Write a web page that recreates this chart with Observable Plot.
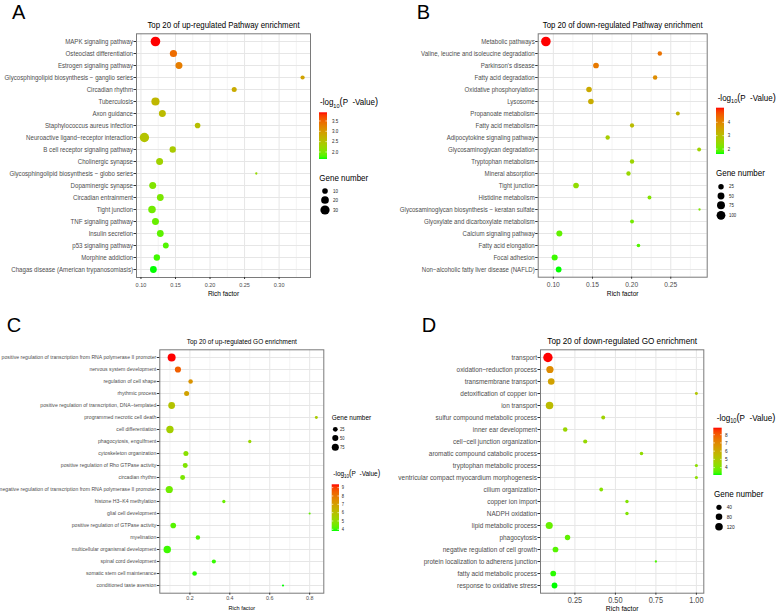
<!DOCTYPE html>
<html><head><meta charset="utf-8">
<script src="https://cdn.jsdelivr.net/npm/d3@7"></script>
<script src="https://cdn.jsdelivr.net/npm/@observablehq/plot@0.6"></script>
<style>
body{margin:0;background:#fff;}
#root{position:relative;width:778px;height:612px;overflow:hidden;background:#fff;font-family:'Liberation Sans',Arial,Helvetica,sans-serif;}
#root svg{position:absolute;}
</style></head>
<body><div id="root"></div>
<script>
// ---------- DATA ----------
const titleA = "Top 20 of up-regulated Pathway enrichment";
const termsA = ["MAPK signaling pathway","Osteoclast differentiation","Estrogen signaling pathway","Glycosphingolipid biosynthesis − ganglio series","Circadian rhythm","Tuberculosis","Axon guidance","Staphylococcus aureus infection","Neuroactive ligand−receptor interaction","B cell receptor signaling pathway","Cholinergic synapse","Glycosphingolipid biosynthesis − globo series","Dopaminergic synapse","Circadian entrainment","Tight junction","TNF signaling pathway","Insulin secretion","p53 signaling pathway","Morphine addiction","Chagas disease (American trypanosomiasis)"];
const richA  = [0.121,0.147,0.155,0.334,0.235,0.121,0.131,0.182,0.105,0.146,0.127,0.267,0.117,0.128,0.116,0.121,0.128,0.136,0.123,0.118];
const logpA  = [3.92,3.45,3.3,2.9,2.8,2.65,2.6,2.55,2.5,2.4,2.3,2.2,2.05,2.0,1.95,1.9,1.85,1.8,1.75,1.66];
const countA = [33,17,16,6,8,23,16,10,31,13,16,4,16,15,19,16,15,11,13,15];
const ticksA = [0.10,0.15,0.20,0.25,0.30];
const colorTicksA = [2.0,2.5,3.0,3.5];
const sizeTicksA = [10,20,30];

const titleB = "Top 20 of down-regulated Pathway enrichment";
const termsB = ["Metabolic pathways","Valine, leucine and isoleucine degradation","Parkinson's disease","Fatty acid degradation","Oxidative phosphorylation","Lysosome","Propanoate metabolism","Fatty acid metabolism","Adipocytokine signaling pathway","Glycosaminoglycan degradation","Tryptophan metabolism","Mineral absorption","Tight junction","Histidine metabolism","Glycosaminoglycan biosynthesis − keratan sulfate","Glyoxylate and dicarboxylate metabolism","Calcium signaling pathway","Fatty acid elongation","Focal adhesion","Non−alcoholic fatty liver disease (NAFLD)"];
const richB  = [0.0905,0.236,0.1545,0.230,0.1456,0.148,0.259,0.2005,0.1694,0.2862,0.2005,0.196,0.129,0.2228,0.2867,0.2005,0.1077,0.2087,0.1017,0.1068];
const logpB  = [5.09,4.3,4.2,3.9,3.4,3.35,3.2,3.05,2.7,2.6,2.55,2.5,2.4,2.25,2.2,2.1,1.95,1.85,1.75,1.63];
const countB = [125,13,29,13,27,27,8,11,12,8,12,12,28,8,2,8,34,6,35,30];
const ticksB = [0.10,0.15,0.20,0.25];
const colorTicksB = [2,3,4];
const sizeTicksB = [25,50,75,100];

const titleC = "Top 20 of up-regulated GO enrichment";
const termsC = ["positive regulation of transcription from RNA polymerase II promoter","nervous system development","regulation of cell shape","rhythmic process","positive regulation of transcription, DNA−templated","programmed necrotic cell death","cell differentiation","phagocytosis, engulfment","cytoskeleton organization","positive regulation of Rho GTPase activity","circadian rhythm","negative regulation of transcription from RNA polymerase II promoter","histone H3−K4 methylation","glial cell development","positive regulation of GTPase activity","myelination","multicellular organismal development","spinal cord development","somatic stem cell maintenance","conditioned taste aversion"];
const richC  = [0.1085,0.14,0.2035,0.1835,0.1085,0.8335,0.10,0.50,0.18,0.1767,0.1635,0.0965,0.37,0.80,0.1165,0.24,0.0865,0.32,0.2235,0.6665];
const logpC  = [9.4,8.5,7.3,6.9,5.9,5.6,5.5,5.2,4.9,4.75,4.65,4.5,4.4,4.3,4.2,4.1,4.0,3.95,3.88,3.8];
const countC = [104,52,20,29,67,6,84,8,29,28,27,80,8,4,40,20,86,16,22,4];
const ticksC = [0.2,0.4,0.6,0.8];
const colorTicksC = [4,5,6,7,8,9];
const sizeTicksC = [25,50,75];

const titleD = "Top 20 of down-regulated GO enrichment";
const termsD = ["transport","oxidation−reduction process","transmembrane transport","detoxification of copper ion","ion transport","sulfur compound metabolic process","inner ear development","cell−cell junction organization","aromatic compound catabolic process","tryptophan metabolic process","ventricular compact myocardium morphogenesis","cilium organization","copper ion import","NADPH oxidation","lipid metabolic process","phagocytosis","negative regulation of cell growth","protein localization to adherens junction","fatty acid metabolic process","response to oxidative stress"];
const richD  = [0.0833,0.0957,0.1037,1.0,0.0932,0.4247,0.19,0.3136,0.661,1.0,1.0,0.4123,0.5714,0.5714,0.0914,0.2044,0.130,0.75,0.116,0.124];
const logpD  = [8.85,6.9,6.3,5.2,5.5,4.7,4.6,4.5,4.4,4.3,4.3,4.2,4.1,4.1,3.7,3.6,3.5,3.4,3.2,3.1];
const countD = [215,106,82,5,119,14,24,18,10,6,6,12,8,8,100,44,53,3,53,55];
const ticksD = [0.25,0.50,0.75,1.00];
const colorTicksD = [4,5,6,7,8];
const sizeTicksD = [40,80,120];

// ---------- LAYOUT ----------
const S = 0.9; // horizontal text condensation
const FONT = "'Liberation Sans', Arial, Helvetica, sans-serif";
const panels = [
 {key:"A", title:titleA, terms:termsA, rich:richA, logp:logpA, count:countA, ticks:ticksA, fmt:d3.format(".2f"),
  cdomain:[1.66,3.92], rr:[1.15,4.8], ox:0, oy:0, w:390, h:306, mL:136, mT:33.3, mR:80, mB:29,
  fT:8.75, fY:6.83, fX:6.1, fL:7.28, tDy:-8.3, lDy:16.3, tickPad:3,
  letter:[12,19],
  leg:{ct:[320,102], bar:[319,327,112.3,159], cticks:colorTicksA, cfmt:d3.format(".1f"), clx:332,
       gt:[319.3,178], gx:325, gys:[191,200,210], gv:sizeTicksA, glx:333, ft:8.9, fl:5.0}},
 {key:"B", title:titleB, terms:termsB, rich:richB, logp:logpB, count:countB, ticks:ticksB, fmt:d3.format(".2f"),
  cdomain:[1.63,5.09], rr:[1.15,4.8], ox:390, oy:0, w:388, h:306, mL:147.7, mT:33.3, mR:71.3, mB:29.3,
  fT:8.62, fY:6.78, fX:7.4, fL:7.37, tDy:-8.3, lDy:16.3, tickPad:2.5,
  letter:[416.7,19],
  leg:{ct:[717.7,97.5], bar:[716,724,107.7,154], cticks:colorTicksB, cfmt:d3.format("d"), clx:727.7,
       gt:[716,173], gx:721, gys:[186.7,196,205.3,215.3], gv:sizeTicksB, glx:729, ft:8.9, fl:4.8}},
 {key:"C", title:titleC, terms:termsC, rich:richC, logp:logpC, count:countC, ticks:ticksC, fmt:d3.format(".1f"),
  cdomain:[3.8,9.4], rr:[1.05,4.0], ox:0, oy:306, w:390, h:306, mL:159.3, mT:43.3, mR:66.7, mB:19.3,
  fT:7.19, fY:5.72, fX:5.9, fL:6.2, tDy:-8.6, lDy:14.6, tickPad:1,
  letter:[6.7,331.7],
  leg:{ct:[333.3,473.7], bar:[331.7,339,484.3,531], cticks:colorTicksC, cfmt:d3.format("d"), clx:341.7,
       gt:[331.7,417], gx:335.3, gys:[429.3,438,447.3], gv:sizeTicksC, glx:340, ft:7.2, fl:4.5}},
 {key:"D", title:titleD, terms:termsD, rich:richD, logp:logpD, count:countD, ticks:ticksD, fmt:d3.format(".2f"),
  cdomain:[3.1,8.85], rr:[1.15,4.7], ox:390, oy:306, w:388, h:306, mL:150, mT:43.3, mR:74.7, mB:19.3,
  fT:9.08, fY:7.17, fX:8.2, fL:7.6, tDy:-8.6, lDy:15.6, tickPad:1.5,
  letter:[421.7,331.7],
  leg:{ct:[716.7,417.5], bar:[713.3,721.7,427.7,475], cticks:colorTicksD, cfmt:d3.format("d"), clx:725,
       gt:[714,494], gx:719, gys:[507.3,516.7,526.7], gv:sizeTicksD, glx:726.7, ft:9.0, fl:5.3}}
];

function condense(svg, s){
  svg.querySelectorAll("text").forEach(t=>{
    const tr = t.getAttribute("transform") || "";
    const x = t.getAttribute("x");
    if (x && parseFloat(x) !== 0 && !/em/.test(x)) {
      t.setAttribute("transform", tr + ` translate(${x},0) scale(${s},1)`);
      t.setAttribute("x", 0);
    } else {
      t.setAttribute("transform", tr + ` scale(${s},1)`);
    }
  });
}

const root = document.getElementById("root");
const built = [];
const EPS = 1e-6; // keeps the smallest gene count strictly positive for the r channel
for (const p of panels) {
  const data = p.terms.map((term,i)=>({term, rich:p.rich[i], logp:p.logp[i], count:p.count[i]}));
  const [x0,x1] = d3.extent(p.rich); const ex = (x1-x0)*0.05;
  const cmin = d3.min(p.count), cmax = d3.max(p.count);
  const step = p.ticks[1]-p.ticks[0];
  const minor = [p.ticks[0]-step/2, ...p.ticks.map(t=>t+step/2)].filter(v=>v>x0-ex && v<x1+ex);
  const svg = Plot.plot({
    width:p.w, height:p.h, marginLeft:p.mL, marginRight:p.mR, marginTop:p.mT, marginBottom:p.mB,
    style:{fontFamily:FONT, background:"white", overflow:"visible"},
    x:{domain:[x0-ex, x1+ex]},
    y:{type:"point", domain:p.terms, padding:0.6},
    color:{type:"linear", domain:p.cdomain, range:["#00ff00","#ff0000"], interpolate:"lab"},
    r:{type:"sqrt", domain:[0, cmax-cmin], range:p.rr},
    marks:[
      Plot.gridX(minor, {stroke:"#ececec", strokeOpacity:1, strokeWidth:0.6}),
      Plot.gridX(p.ticks, {stroke:"#e6e6e6", strokeOpacity:1, strokeWidth:1}),
      Plot.gridY(p.terms, {stroke:"#e6e6e6", strokeOpacity:1, strokeWidth:1}),
      Plot.frame({stroke:"#7a7a7a", strokeWidth:1}),
      Plot.axisY({tickSize:2.5, tickPadding:1, fontSize:p.fY, label:null, stroke:"#333", fill:"#4d4d4d"}),
      Plot.axisX({ticks:p.ticks, tickFormat:p.fmt, tickSize:2, tickPadding:p.tickPad, fontSize:p.fX, label:null, stroke:"#333", fill:"#4d4d4d"}),
      Plot.dot(data, {x:"rich", y:"term", r:d=>d.count-cmin+EPS, fill:"logp"}),
      Plot.text([p.title], {text:d=>d, frameAnchor:"top", dy:p.tDy, fontSize:p.fT, fill:"black", lineAnchor:"middle"}),
      Plot.text(["Rich factor"], {text:d=>d, frameAnchor:"bottom", dy:p.lDy, fontSize:p.fL, fill:"black", lineAnchor:"middle"})
    ]
  });
  svg.style.left = p.ox + "px"; svg.style.top = p.oy + "px";
  condense(svg, S);
  root.appendChild(svg);
  built.push({p, svg, cmin});
}

// ---------- LEGENDS & PANEL LETTERS ----------
const ov = d3.select(root).append("svg").attr("width",778).attr("height",612)
  .style("left","0px").style("top","0px").style("pointer-events","none")
  .attr("font-family", FONT);
const defs = ov.append("defs");
function label(x, yc, txt, size, fill="black"){
  return ov.append("text").attr("transform",`translate(${x},${yc + size*0.35}) scale(${S},1)`)
    .attr("font-size", size).attr("fill", fill).text(txt);
}
for (const {p, svg, cmin} of built) {
  const L = p.leg;
  const color = svg.scale("color"), r = svg.scale("r");
  // colour title: -log10(P -Value)
  const t = ov.append("text").attr("transform",`translate(${L.ct[0]},${L.ct[1] + L.ft*0.35}) scale(${S},1)`)
    .attr("font-size", L.ft).attr("fill","black").style("white-space","pre");
  t.append("tspan").text("-log");
  t.append("tspan").attr("font-size", L.ft*0.7).attr("dy", L.ft*0.28).text("10");
  t.append("tspan").attr("dy", -L.ft*0.28).attr("font-size", L.ft*1.15).text("(");
  t.append("tspan").text("P\u00a0\u00a0-Value");
  t.append("tspan").attr("font-size", L.ft*1.15).text(")");
  // gradient bar
  const [bx0,bx1,by0,by1] = L.bar;
  const [d0,d1] = color.domain;
  const g = defs.append("linearGradient").attr("id","grad"+p.key).attr("x1",0).attr("y1",1).attr("x2",0).attr("y2",0);
  d3.range(0,1.0001,0.05).forEach(u=> g.append("stop").attr("offset",u).attr("stop-color", color.apply(d0 + u*(d1-d0))));
  ov.append("rect").attr("x",bx0).attr("y",by0).attr("width",bx1-bx0).attr("height",by1-by0).attr("fill",`url(#grad${p.key})`);
  for (const v of L.cticks) {
    const yy = by1 - (v-d0)/(d1-d0)*(by1-by0);
    ov.append("line").attr("x1",bx0).attr("x2",bx0+1.6).attr("y1",yy).attr("y2",yy).attr("stroke","white").attr("stroke-width",0.6);
    ov.append("line").attr("x1",bx1-1.6).attr("x2",bx1).attr("y1",yy).attr("y2",yy).attr("stroke","white").attr("stroke-width",0.6);
    label(L.clx, yy, L.cfmt(v), L.fl, "#222");
  }
  // size legend
  label(L.gt[0], L.gt[1], "Gene number", L.ft);
  L.gv.forEach((v,i)=>{
    ov.append("circle").attr("cx",L.gx).attr("cy",L.gys[i]).attr("r", r.apply(v - cmin)).attr("fill","black");
    label(L.glx, L.gys[i], String(v), L.fl, "#222");
  });
  // panel letter
  ov.append("text").attr("x",p.letter[0]).attr("y",p.letter[1]).attr("font-size",20).attr("fill","black").text(p.key);
}
</script>
</body></html>
